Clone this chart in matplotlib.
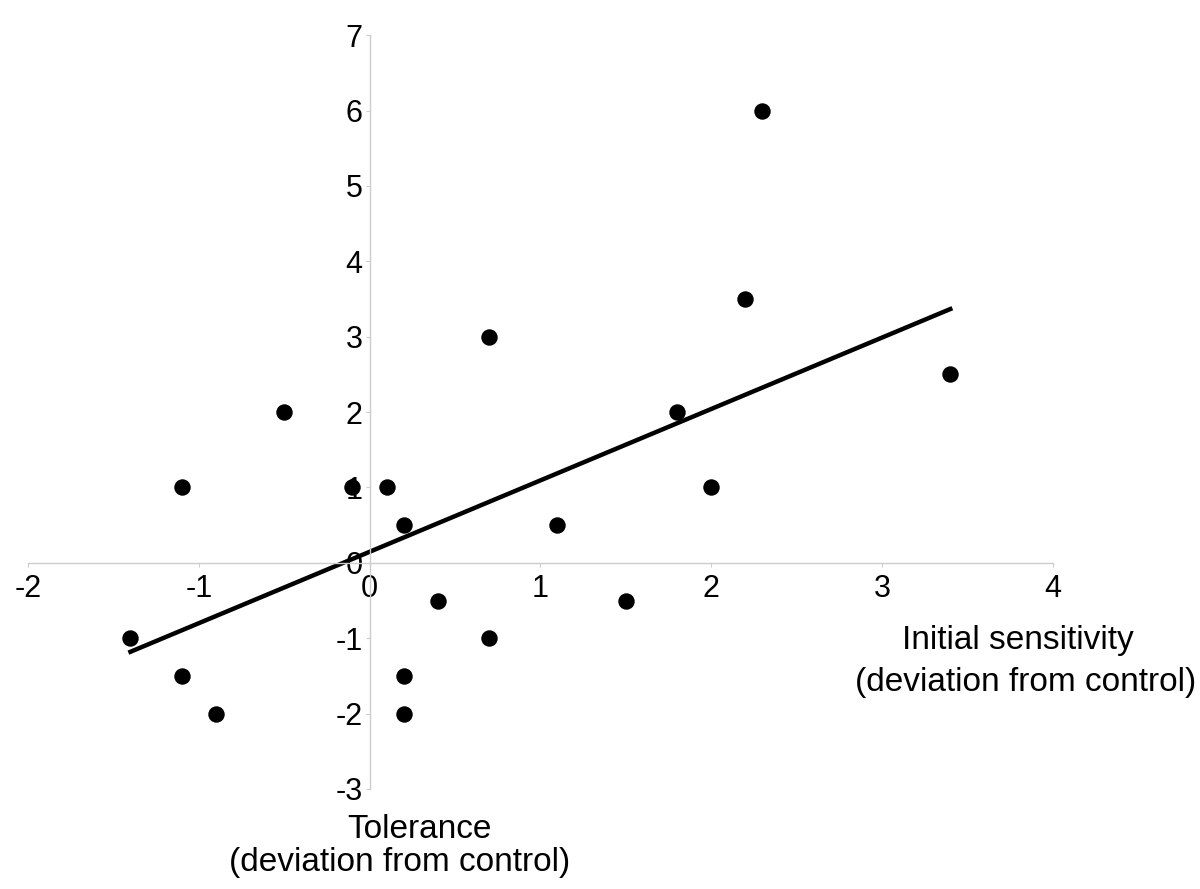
import matplotlib.pyplot as plt
import numpy as np

plt.rcParams['font.family'] = ['Liberation Sans', 'DejaVu Sans']

# initial sensitivity (x) vs tolerance (y), deviation from control
sens = [-1.4, -1.1, -1.1, -0.9, -0.5, -0.1, 0.1, 0.2, 0.2, 0.2,
        0.4, 0.7, 0.7, 1.1, 1.5, 1.8, 2.0, 2.2, 2.3, 3.4]
tol = [-1, 1, -1.5, -2, 2, 1, 1, 0.5, -1.5, -2,
       -0.5, 3, -1, 0.5, -0.5, 2, 1, 3.5, 6, 2.5]
xticks = [-2, -1, 0, 1, 2, 3, 4]
yticks = [-3, -2, -1, 0, 1, 2, 3, 4, 5, 6, 7]

x = np.array(sens)
y = np.array(tol)

fig = plt.figure(figsize=(12, 8.89), dpi=100)
ax = fig.add_axes([0.0233, 0.1125, 0.854, 0.848])

ax.scatter(x, y, s=140, c='black', zorder=3, linewidths=0)

# least squares line over the data range
k, b = np.polyfit(x, y, 1)
xx = np.array([x.min(), x.max()])
ax.plot(xx, k * xx + b, color='black', lw=3.2, zorder=2)

ax.set_xlim(-2, 4)
ax.set_ylim(-3, 7)
ax.set_xticks(xticks)
ax.set_yticks(yticks)
ax.set_xticklabels([str(t) for t in xticks])
ax.set_yticklabels([str(t) for t in yticks])

for s in ['top', 'right']:
    ax.spines[s].set_visible(False)
ax.spines['left'].set_position(('data', 0))
ax.spines['bottom'].set_position(('data', 0))
for s in ['left', 'bottom']:
    ax.spines[s].set_color('#cccccc')
    ax.spines[s].set_linewidth(1)

ax.tick_params(axis='both', direction='out', length=3, width=0.8,
               color='#cccccc', labelsize=22, labelcolor='black')
ax.tick_params(axis='x', pad=5)
ax.tick_params(axis='y', pad=2)
ax.patch.set_visible(False)

fs = 24
fig.text(1018 / 1200, 1 - 641 / 889, 'Initial sensitivity', ha='center',
         va='center', fontsize=fs)
fig.text(1026 / 1200, 1 - 682 / 889, '(deviation from control)', ha='center',
         va='center', fontsize=fs)
fig.text(419 / 1200, 1 - 830 / 889, 'Tolerance', ha='center',
         va='center', fontsize=fs)
fig.text(400 / 1200, 1 - 862 / 889, '(deviation from control)', ha='center',
         va='center', fontsize=fs)

fig.savefig('out.png', dpi=100)
